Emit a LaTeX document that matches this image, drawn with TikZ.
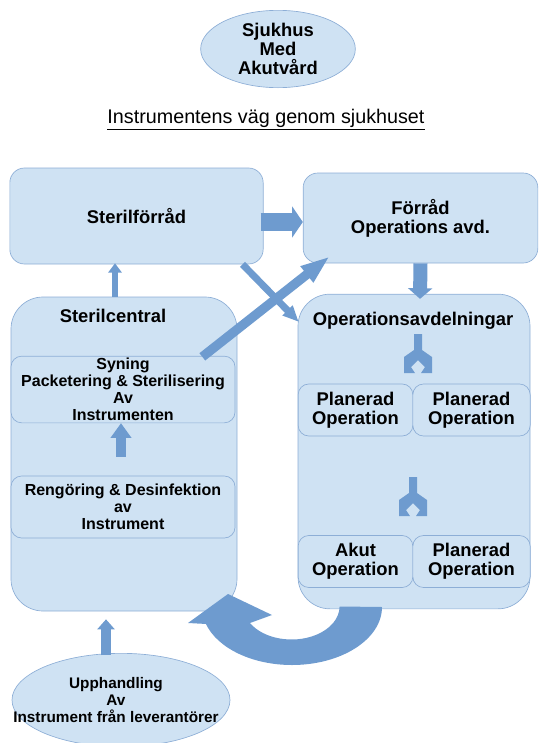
\documentclass[tikz,border=0pt]{standalone}
\usepackage{fontspec}
\setmainfont{Liberation Sans}
\usetikzlibrary{shapes.geometric, arrows.meta, calc}
\definecolor{box-fill}{HTML}{CFE2F3}
\definecolor{box-line}{HTML}{8DAED6}
\definecolor{arrow-blue}{HTML}{6E9BCF}

\tikzset{
  pics/splitarrow/.style={code={
    \fill[arrow-blue] (-4,0) -- (4,0) -- (4,16) -- (14,23) -- (14,39) -- (3,39)
      -- (7,33) -- (0,26) -- (-7,33) -- (-3,39) -- (-14,39) -- (-14,23)
      -- (-4,16) -- cycle;
  }}
}

\begin{document}
\begin{tikzpicture}[x=0.75pt, y=-0.75pt,
    every node/.style={font=\bfseries\fontsize{13.8}{14.3}\selectfont, align=center},
    smalltext/.style={font=\bfseries\fontsize{12}{12.8}\selectfont},
    box/.style={draw=box-line, fill=box-fill, line width=0.5pt, inner sep=0pt},
    panel/.style={box, rounded corners=11pt},
    bigbox/.style={box, rounded corners=24pt},
    subbox/.style={box, rounded corners=8pt},
    oval/.style={draw=box-line, fill=box-fill, line width=0.5pt, ellipse, inner sep=0pt},
    blockarrow/.style n args={3}{draw=arrow-blue, line width=#1,
      -{Triangle[length=#2, width=#3]}}]
    \useasboundingbox (0,0) rectangle (541,743);

    % top of the page
    \node[oval, minimum width=116pt, minimum height=58pt] (sjukhus) at (278,49)
      {Sjukhus\\Med\\Akutvård};
    \node[font=\fontsize{14.8}{16}\selectfont] (rubrik) at (266,120)
      {\underline{Instrumentens väg genom sjukhuset}};

    % upper row
    \node[panel, minimum width=190pt, minimum height=72pt] (sterilforrad)
      at (136.5,216) {Sterilförråd};
    \node[panel, minimum width=176pt, minimum height=67.5pt] (forrad)
      at (420.5,218) {Förråd\\Operations avd.};

    % sterilcentral
    \node[bigbox, minimum width=169.5pt, minimum height=235.5pt] (sterilcentral)
      at (124,454) {};
    \node (sterilcentraltitel) at (113,316) {Sterilcentral};
    \node[subbox, smalltext, minimum width=168pt, minimum height=50pt] (syning)
      at (123,389.5) {Syning\\Packetering \& Sterilisering\\Av\\Instrumenten};
    \node[subbox, smalltext, minimum width=168pt, minimum height=46.5pt] (rengoring)
      at (123,507) {Rengöring \& Desinfektion\\av\\Instrument};

    % operationsavdelningar
    \node[bigbox, minimum width=174pt, minimum height=236pt] (opavd)
      at (414,451.5) {};
    \node (opavdtitel) at (413,321) {Operationsavdelningar};
    \node[subbox, minimum width=86pt, minimum height=39pt] (planerad1)
      at (355.5,410) {Planerad\\Operation};
    \node[subbox, minimum width=88pt, minimum height=39pt] (planerad2)
      at (471.5,410) {Planerad\\Operation};
    \node[subbox, minimum width=86pt, minimum height=39pt] (akut)
      at (355.5,561.5) {Akut\\Operation};
    \node[subbox, minimum width=88pt, minimum height=39pt] (planerad3)
      at (471.5,561.5) {Planerad\\Operation};
    \pic at (418,334) {splitarrow};
    \pic at (413,477) {splitarrow};

    % supplier
    \node[oval, minimum width=163.5pt, minimum height=70pt] (upphandling)
      at (121,700) {};
    \node[font=\bfseries\fontsize{11.5}{12.8}\selectfont] (upphandlingtext)
      at ($(upphandling.center)+(-5,0)$) {Upphandling\\Av\\Instrument från leverantörer};

    % arrows
    \draw[blockarrow={13pt}{8pt}{23pt}] ($(sterilforrad.east)+(-3,6)$)
      -- ($(forrad.west)+(0,4)$);
    \draw[blockarrow={5pt}{7pt}{10pt}] ($(sterilcentral.north)+(-9,0)$)
      -- ($(sterilforrad.south)+(-21.5,-1)$);
    \draw[blockarrow={10.5pt}{8pt}{18pt}] ($(forrad.south)+(0,0)$)
      -- ($(opavd.north)+(6,5)$);
    \draw[blockarrow={7.5pt}{11pt}{15pt}] ($(rengoring.north)+(-2,-19)$)
      -- ($(syning.south)+(-2,0)$);
    \draw[blockarrow={7pt}{7.5pt}{12.75pt}] ($(upphandling.north)+(-15,2)$)
      -- ($(sterilcentral.south)+(-18,8)$);
    \draw[blockarrow={5.25pt}{12pt}{10pt}] ($(sterilforrad.south east)+(-21,0)$)
      -- ($(opavd.north west)+(1,28)$);
    \draw[blockarrow={7pt}{22pt}{14pt}] ($(syning.north east)+(-33,1)$)
      -- ($(forrad.south west)+(27,-7)$);

    % return arrow under the wards
    \fill[arrow-blue] (382,607) arc[start angle=0, end angle=163, x radius=90,
      y radius=58] -- (188,623) -- (228,594) -- (272,615) -- (250,623)
      arc[start angle=150, end angle=0, x radius=48, y radius=33] -- cycle;
  \end{tikzpicture}
\end{document}
